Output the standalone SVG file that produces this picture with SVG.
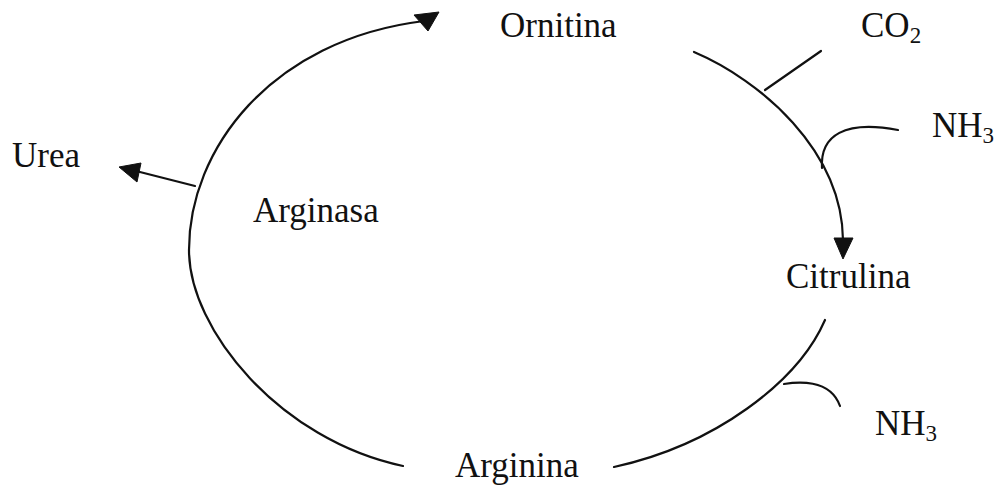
<svg xmlns="http://www.w3.org/2000/svg" width="998" height="485" viewBox="0 0 998 485">
<style>
.t{font-family:"Liberation Serif","Times New Roman",serif;font-size:35px;fill:#111}
.s{font-size:23px}
.ln{fill:none;stroke:#111;stroke-width:2.2;stroke-linecap:round}
.hd{fill:#111;stroke:#111;stroke-width:1;stroke-linejoin:round}
</style>
<rect width="998" height="485" fill="#fff"/>
<g id="connectors">
<path class="ln" d="M403,466 C280,440 189,330 189,250 C189,150 270,40 424,21"/>
<polygon class="hd" points="414,15 428,31 439,12"/>
<path class="ln" d="M195,186 L136,171"/>
<polygon class="hd" points="119,167 137,182 141,163"/>
<path class="ln" d="M694,52 C760,80 842,150 843,240"/>
<polygon class="hd" points="834,238 853,238 843,259"/>
<path class="ln" d="M765,90 L821,51"/>
<path class="ln" d="M822,168 C820,135 845,120 898,130"/>
<path class="ln" d="M825,320 C798,382 715,445 614,467"/>
<path class="ln" d="M784,384 C796,382 830,378 840,406"/>
</g>
<g id="ornitina"><text class="t" x="500" y="37">Ornitina</text></g>
<g id="co2"><text class="t" x="861" y="37">CO<tspan class="s" dy="6">2</tspan></text></g>
<g id="nh3-top"><text class="t" x="932" y="137">NH<tspan class="s" dy="6">3</tspan></text></g>
<g id="urea"><text class="t" x="12" y="167">Urea</text></g>
<g id="arginasa"><text class="t" x="253" y="222">Arginasa</text></g>
<g id="citrulina"><text class="t" x="786" y="288">Citrulina</text></g>
<g id="nh3-bottom"><text class="t" x="875" y="435">NH<tspan class="s" dy="6">3</tspan></text></g>
<g id="arginina"><text class="t" x="455" y="477">Arginina</text></g>
</svg>
